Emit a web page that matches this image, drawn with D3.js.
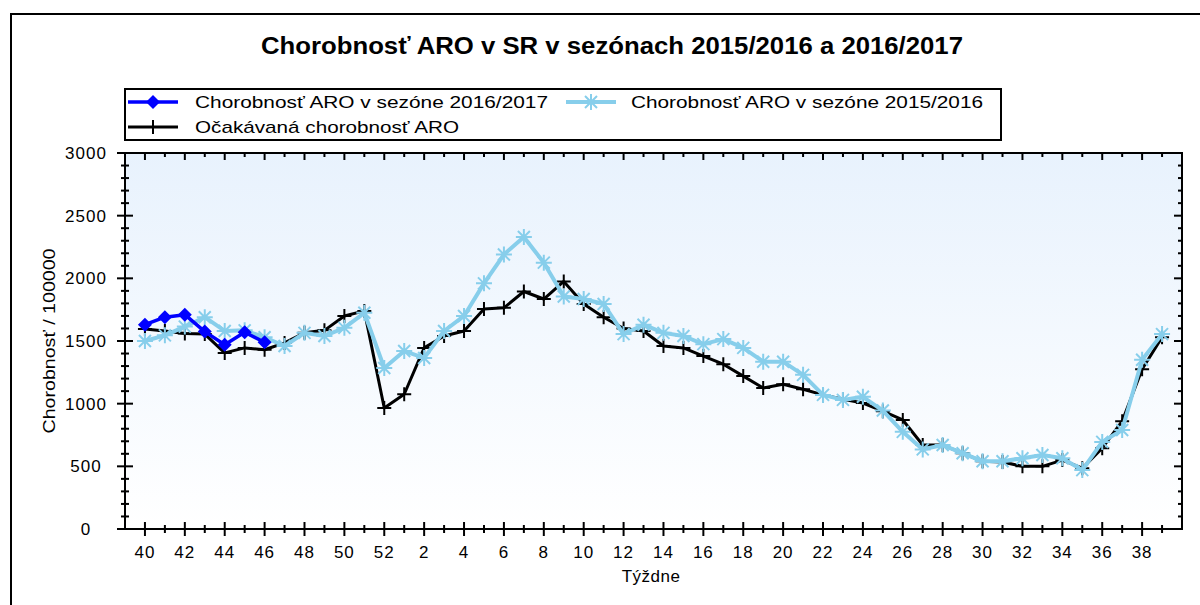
<!DOCTYPE html>
<html>
<head>
<meta charset="utf-8">
<script src="https://cdn.jsdelivr.net/npm/d3@7"></script>
<style>
  body { margin: 0; background: #fff; }
  svg { display: block; }
  text { font-family: "Liberation Sans", Arial, sans-serif; fill: #000; }
</style>
</head>
<body>
<div id="draw"></div>
<script>
// week numbers on the x axis (season runs from week 40 to week 39)
const weeks = [40, 41, 42, 43, 44, 45, 46, 47, 48, 49, 50, 51, 52,
  1, 2, 3, 4, 5, 6, 7, 8, 9, 10, 11, 12, 13, 14, 15, 16, 17, 18, 19, 20,
  21, 22, 23, 24, 25, 26, 27, 28, 29, 30, 31, 32, 33, 34, 35, 36, 37, 38, 39];

// season 2016/2017 (only the first weeks are known)
const season1617 = [1630, 1690, 1710, 1575, 1470, 1570, 1490];

// season 2015/2016
const season1516 = [1500, 1545, 1615, 1690, 1580, 1585, 1530, 1460, 1565, 1540, 1605, 1725, 1285,
  1420, 1365, 1580, 1700, 1960, 2190, 2330, 2125, 1855, 1835, 1795, 1555, 1630, 1565, 1540,
  1475, 1515, 1445, 1335, 1335, 1230, 1070, 1030, 1055, 945, 775, 635, 670, 605, 540, 540,
  565, 590, 565, 470, 695, 790, 1350, 1555];

// expected morbidity
const expected = [1595, 1580, 1560, 1555, 1405, 1445, 1430, 1485, 1565, 1585, 1700, 1740, 965,
  1075, 1445, 1540, 1580, 1755, 1765, 1895, 1835, 1975, 1795, 1690, 1600, 1580, 1460, 1445,
  1380, 1315, 1220, 1125, 1155, 1115, 1070, 1035, 1005, 940, 870, 670, 670, 605, 540, 535,
  500, 500, 550, 485, 645, 860, 1275, 1530];

const yTicks = [0, 500, 1000, 1500, 2000, 2500, 3000];
const yMinor = d3.range(0, 3001, 100);

const legendLabels = ["Chorobnosť ARO v sezóne 2016/2017", "Chorobnosť ARO v sezóne 2015/2016", "Očakávaná chorobnosť ARO"];

class SeasonChart {

  constructor() {
    this.w = 1200;
    this.h = 605;
    this.left = 125; this.right = 1182;
    this.top = 153; this.bottom = 529;
  }

  render() {
    this.svg = d3.select("#draw").append("svg")
      .attr("width", this.w)
      .attr("height", this.h);

    this.x = d3.scaleLinear().domain([-1, weeks.length]).range([this.left, this.right]);
    this.y = d3.scaleLinear().domain([0, 3000]).range([this.bottom, this.top]);

    this._frame();
    this._axes();
    this._series(expected, "#000", 3, "plus");
    this._series(season1516, "#87ceeb", 4, "star");
    this._series(season1617, "#0000ff", 3.5, "diamond");
    this._legend();
  }

  _frame() {
    const defs = this.svg.append("defs");
    const g = defs.append("linearGradient").attr("id", "bg")
      .attr("x1", 0).attr("y1", 0).attr("x2", 0).attr("y2", 1);
    g.append("stop").attr("offset", "0%").attr("stop-color", "#e8f2fd");
    g.append("stop").attr("offset", "100%").attr("stop-color", "#ffffff");

    // outer panel border (runs off the picture on the right and bottom)
    this.svg.append("rect")
      .attr("x", 11).attr("y", 14).attr("width", 1400).attr("height", 800)
      .attr("fill", "#fff").attr("stroke", "#000").attr("stroke-width", 2);

    this.svg.append("rect")
      .attr("x", this.left).attr("y", this.top)
      .attr("width", this.right - this.left).attr("height", this.bottom - this.top)
      .attr("fill", "url(#bg)");

    this.svg.append("text")
      .attr("x", 612).attr("y", 54)
      .attr("text-anchor", "middle")
      .attr("font-size", 23).attr("font-weight", "bold")
      .attr("textLength", 702).attr("lengthAdjust", "spacingAndGlyphs")
      .text("Chorobnosť ARO v SR v sezónach 2015/2016 a 2016/2017");
  }

  _axes() {
    const x = this.x, y = this.y;
    const idx = d3.range(weeks.length);

    // left axis: ticks on both sides
    const left = this.svg.append("g").attr("transform", `translate(${this.left},0)`);
    left.selectAll("line.minor").data(yMinor).join("line")
      .attr("x1", d => d % 500 ? -4 : -8).attr("x2", d => d % 500 ? 4 : 8)
      .attr("y1", d => y(d)).attr("y2", d => y(d))
      .attr("stroke", "#000").attr("stroke-width", 2);
    left.selectAll("text").data(yTicks).join("text")
      .attr("x", -39).attr("y", d => y(d) + 6)
      .attr("text-anchor", "middle").attr("font-size", 17).attr("letter-spacing", 1)
      .text(d => d);

    // right axis: inward ticks
    this.svg.append("g").selectAll("line").data(yMinor).join("line")
      .attr("x1", this.right).attr("x2", d => this.right - (d % 500 ? 4 : 8))
      .attr("y1", d => y(d)).attr("y2", d => y(d))
      .attr("stroke", "#000").attr("stroke-width", 2);

    // bottom axis: ticks on both sides
    const bottom = this.svg.append("g");
    bottom.selectAll("line").data(idx).join("line")
      .attr("x1", i => x(i)).attr("x2", i => x(i))
      .attr("y1", i => this.bottom - (weeks[i] % 2 ? 4 : 7))
      .attr("y2", i => this.bottom + (weeks[i] % 2 ? 4 : 7))
      .attr("stroke", "#000").attr("stroke-width", 2);
    bottom.selectAll("text").data(idx.filter(i => weeks[i] % 2 === 0)).join("text")
      .attr("x", i => x(i)).attr("y", 558)
      .attr("text-anchor", "middle").attr("font-size", 17).attr("letter-spacing", 1)
      .text(i => weeks[i]);

    // top axis: inward ticks
    this.svg.append("g").selectAll("line").data(idx).join("line")
      .attr("x1", i => x(i)).attr("x2", i => x(i))
      .attr("y1", this.top).attr("y2", i => this.top + (weeks[i] % 2 ? 4 : 7))
      .attr("stroke", "#000").attr("stroke-width", 2);

    // frame lines
    this.svg.append("rect")
      .attr("x", this.left).attr("y", this.top)
      .attr("width", this.right - this.left).attr("height", this.bottom - this.top)
      .attr("fill", "none").attr("stroke", "#000").attr("stroke-width", 2);

    this.svg.append("text")
      .attr("x", 651).attr("y", 582)
      .attr("text-anchor", "middle").attr("font-size", 17).attr("letter-spacing", 0.5)
      .text("Týždne");

    this.svg.append("text")
      .attr("transform", "translate(55,341) rotate(-90)")
      .attr("text-anchor", "middle").attr("font-size", 17)
      .attr("textLength", 185).attr("lengthAdjust", "spacingAndGlyphs")
      .text("Chorobnosť / 100000");
  }

  _marker(sel, type, color) {
    if (type === "diamond") {
      sel.append("path").attr("d", "M0,-7L7,0L0,7L-7,0Z").attr("fill", color);
    } else if (type === "star") {
      sel.append("path")
        .attr("d", "M-8,0H8M0,-8V8M-6,-6L6,6M-6,6L6,-6")
        .attr("stroke", color).attr("stroke-width", 2).attr("fill", "none");
    } else {
      sel.append("path").attr("d", "M-7,0H7M0,-7V7")
        .attr("stroke", color).attr("stroke-width", 2).attr("fill", "none");
    }
  }

  _series(values, color, width, marker) {
    const line = d3.line().x((d, i) => this.x(i)).y(d => this.y(d));
    const g = this.svg.append("g");
    g.append("path").datum(values)
      .attr("d", line).attr("fill", "none")
      .attr("stroke", color).attr("stroke-width", width).attr("stroke-linejoin", "round");
    values.forEach((v, i) => {
      const m = g.append("g").attr("transform", `translate(${this.x(i)},${this.y(v)})`);
      this._marker(m, marker, color);
    });
  }

  _legend() {
    const lg = this.svg.append("g");
    lg.append("rect").attr("x", 125).attr("y", 89).attr("width", 876).attr("height", 51)
      .attr("fill", "#fff").attr("stroke", "#000").attr("stroke-width", 2);
    const items = [
      {x: 128, y: 102, color: "#0000ff", marker: "diamond", w: 3.5, text: legendLabels[0], tx: 195, tl: 353},
      {x: 566, y: 102, color: "#87ceeb", marker: "star", w: 4, text: legendLabels[1], tx: 631, tl: 352},
      {x: 128, y: 127, color: "#000", marker: "plus", w: 3, text: legendLabels[2], tx: 195, tl: 264}
    ];
    items.forEach(it => {
      lg.append("line").attr("x1", it.x).attr("x2", it.x + 50)
        .attr("y1", it.y).attr("y2", it.y)
        .attr("stroke", it.color).attr("stroke-width", it.w);
      const m = lg.append("g").attr("transform", `translate(${it.x + 25},${it.y})`);
      this._marker(m, it.marker, it.color);
      lg.append("text").attr("x", it.tx).attr("y", it.y + 6)
        .attr("font-size", 17)
        .attr("textLength", it.tl).attr("lengthAdjust", "spacingAndGlyphs")
        .text(it.text);
    });
  }
}

new SeasonChart().render();
</script>
</body>
</html>
